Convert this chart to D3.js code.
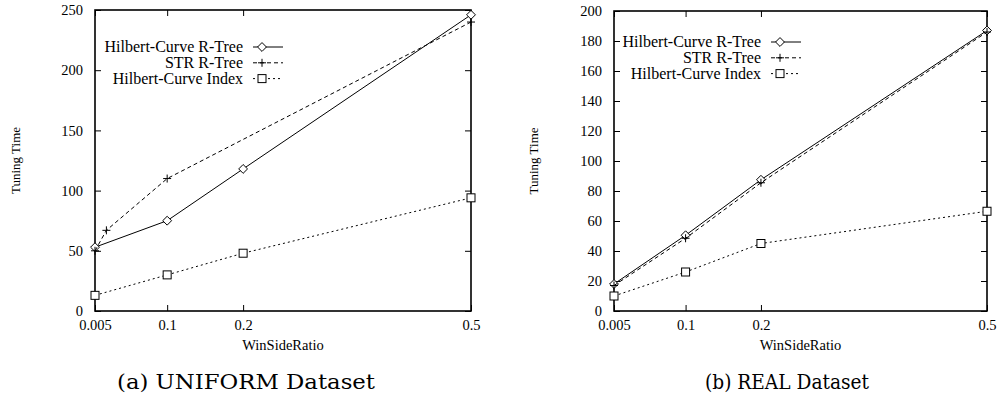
<!DOCTYPE html>
<html>
<head>
<meta charset="utf-8">
<script src="https://cdn.jsdelivr.net/npm/d3@7"></script>
<style>
body { margin: 0; background: #fff; }
svg { display: block; }
</style>
</head>
<body>
<div id="graphdiv"></div>
<script>
document.addEventListener("DOMContentLoaded", init);

var serif = "'Liberation Serif', 'Times New Roman', Times, serif";

// x values (WinSideRatio)
var xTicks = [0.005, 0.1, 0.2, 0.5];
var xTickLabels = ["0.005", "0.1", "0.2", "0.5"];
var seriesNames = ["Hilbert-Curve R-Tree", "STR R-Tree", "Hilbert-Curve Index"];

// (a) UNIFORM dataset
var uniHilbertX = [0.005, 0.1, 0.2, 0.5];
var uniHilbertY = [53, 75, 118, 246];
var uniStrX = [0.005, 0.02, 0.1, 0.5];
var uniStrY = [50, 67, 110, 240];
var uniIndexX = [0.005, 0.1, 0.2, 0.5];
var uniIndexY = [13, 30, 48, 94];
var uniYTicks = [0, 50, 100, 150, 200, 250];

// (b) REAL dataset
var realHilbertX = [0.005, 0.1, 0.2, 0.5];
var realHilbertY = [18, 50.5, 87.5, 187];
var realStrX = [0.005, 0.1, 0.2, 0.5];
var realStrY = [17, 48.5, 85.5, 186];
var realIndexX = [0.005, 0.1, 0.2, 0.5];
var realIndexY = [10, 26, 45, 66.5];
var realYTicks = [0, 20, 40, 60, 80, 100, 120, 140, 160, 180, 200];

var dashes = [null, "4,3", "2,3"];
var shapes = ["diamond", "plus", "square"];

function zip(xs, ys) {
    return xs.map(function(x, i) { return [x, ys[i]]; });
}

function drawMarker(g, shape, cx, cy) {
    if (shape == "diamond") {
        g.append("path").attr("d", d3.symbol().type(d3.symbolDiamond2).size(50)())
            .attr("transform", "translate(" + cx + "," + cy + ")")
            .attr("fill", "#fff").attr("stroke", "#000").attr("stroke-width", 1);
    }
    else if (shape == "plus") {
        g.append("path").attr("d", "M" + (cx - 4) + "," + cy + " h8 M" + cx + "," + (cy - 4) + " v8")
            .attr("fill", "none").attr("stroke", "#000").attr("stroke-width", 1);
    }
    else {
        g.append("rect").attr("x", cx - 4).attr("y", cy - 4).attr("width", 8).attr("height", 8)
            .attr("fill", "#fff").attr("stroke", "#000").attr("stroke-width", 1);
    }
}

function drawPanel(svg, p) {
    var x = d3.scaleLinear().domain([0.005, 0.5]).range([p.left, p.right]);
    var y = d3.scaleLinear().domain([0, p.yMax]).range([p.bottom, p.top]);
    var g = svg.append("g");

    // axes with inward ticks on all sides
    g.append("g").attr("transform", "translate(0," + p.bottom + ")")
        .call(d3.axisBottom(x).tickValues(xTicks).tickFormat(function(d, i) { return xTickLabels[i]; }).tickSizeInner(-6).tickSizeOuter(0).tickPadding(9));
    g.append("g").attr("transform", "translate(0," + p.top + ")")
        .call(d3.axisTop(x).tickValues(xTicks).tickFormat("").tickSizeInner(-6).tickSizeOuter(0));
    g.append("g").attr("transform", "translate(" + p.left + ",0)")
        .call(d3.axisLeft(y).tickValues(p.yTicks).tickSizeInner(-6).tickSizeOuter(0).tickPadding(12));
    g.append("g").attr("transform", "translate(" + p.right + ",0)")
        .call(d3.axisRight(y).tickValues(p.yTicks).tickFormat("").tickSizeInner(-6).tickSizeOuter(0));
    g.selectAll(".domain").remove();
    g.selectAll(".tick line").attr("stroke", "#000");
    g.selectAll(".tick text").attr("font-size", 14.5).attr("font-family", serif).attr("fill", "#000");

    g.append("rect").attr("x", p.left).attr("y", p.top)
        .attr("width", p.right - p.left).attr("height", p.bottom - p.top)
        .attr("fill", "none").attr("stroke", "#000").attr("stroke-width", 1.6);

    // series
    var line = d3.line().x(function(d) { return x(d[0]); }).y(function(d) { return y(d[1]); });
    p.series.forEach(function(s, i) {
        g.append("path").datum(s).attr("d", line)
            .attr("fill", "none").attr("stroke", "#000").attr("stroke-width", 1)
            .attr("stroke-dasharray", dashes[i]);
        s.forEach(function(d) { drawMarker(g, shapes[i], x(d[0]), y(d[1])); });
    });

    // legend
    seriesNames.forEach(function(name, i) {
        var ly = p.legendY + i * 15.8;
        g.append("text").attr("x", p.legendX).attr("y", ly + 5)
            .attr("font-family", serif).attr("text-anchor", "end").attr("font-size", 16).text(name);
        g.append("line").attr("x1", p.legendX + 10).attr("x2", p.legendX + 40)
            .attr("y1", ly).attr("y2", ly).attr("stroke", "#000").attr("stroke-width", 1)
            .attr("stroke-dasharray", dashes[i]);
        drawMarker(g, shapes[i], p.legendX + 19, ly);
    });

    // axis titles
    g.append("text").attr("font-family", serif).attr("font-size", 13)
        .attr("transform", "translate(" + p.yTitleX + "," + ((p.top + p.bottom) / 2) + ") rotate(-90)")
        .attr("text-anchor", "middle").text("Tuning Time");
    g.append("text").attr("font-family", serif).attr("font-size", 14.5)
        .attr("x", (p.left + p.right) / 2).attr("y", p.bottom + 39)
        .attr("text-anchor", "middle").text("WinSideRatio");

    g.append("text").attr("font-family", "'DejaVu Serif', serif").attr("font-size", 20)
        .attr("x", p.captionX).attr("y", 389).attr("text-anchor", "middle")
        .attr("textLength", p.captionW).attr("lengthAdjust", "spacingAndGlyphs").text(p.caption);
}

function init() {
    var svg = d3.select("#graphdiv").append("svg").attr("width", 1000).attr("height", 405);

    drawPanel(svg, {
        left: 95, right: 471, top: 10, bottom: 311, yMax: 250, yTicks: uniYTicks,
        series: [zip(uniHilbertX, uniHilbertY), zip(uniStrX, uniStrY), zip(uniIndexX, uniIndexY)],
        legendX: 243, legendY: 47, yTitleX: 20, captionX: 246, captionW: 258, caption: "(a) UNIFORM Dataset"
    });
    drawPanel(svg, {
        left: 614, right: 987, top: 11, bottom: 311, yMax: 200, yTicks: realYTicks,
        series: [zip(realHilbertX, realHilbertY), zip(realStrX, realStrY), zip(realIndexX, realIndexY)],
        legendX: 761, legendY: 42, yTitleX: 538, captionX: 787, captionW: 164, caption: "(b) REAL Dataset"
    });
}
</script>
</body>
</html>
